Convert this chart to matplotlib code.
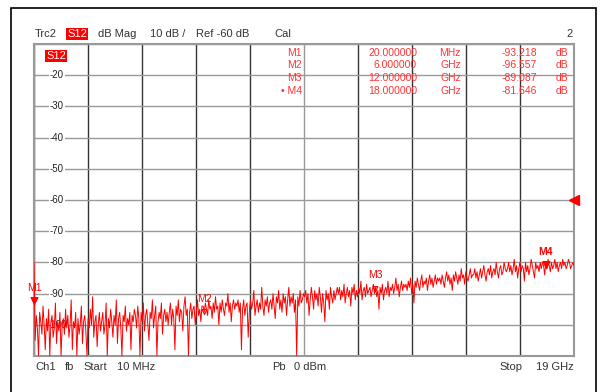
import numpy as np
import matplotlib
matplotlib.use('Agg')
from matplotlib import pyplot as plt
from matplotlib.patches import Rectangle
from matplotlib.path import Path

plt.rcParams['font.family'] = ['Liberation Sans', 'DejaVu Sans']

# sweep: start 10 MHz, stop 19 GHz
f_start = 0.01
f_stop = 19.0

# trace values (dB), equally spaced sweep points
trace_db = [
    -80, -105, -97, -101, -110, -96, -99, -103, -94, -100, -108, -98, -102, -95, -110,
    -99, -97, -104, -101, -93, -106, -99, -102, -96, -110, -100, -98, -103, -95, -101,
    -97, -104, -100, -92, -108, -99, -101, -96, -110, -98, -103, -100, -94, -106, -99,
    -97, -102, -110, -98, -101, -95, -100, -91, -104, -99, -97, -107, -100, -96, -102,
    -99, -96, -103, -100, -93, -110, -98, -101, -95, -99, -104, -97, -100, -92, -106,
    -98, -96, -101, -110, -97, -99, -94, -102, -98, -100, -96, -108, -97, -99, -95,
    -97, -101, -94, -98, -110, -96, -99, -93, -102, -97, -95, -100, -105, -96, -98,
    -92, -101, -97, -94, -110, -99, -96, -98, -93, -103, -97, -95, -99, -96, -100,
    -96, -93, -100, -95, -98, -108, -94, -97, -92, -99, -95, -96, -102, -94, -91,
    -97, -95, -110, -96, -93, -98, -95, -94, -100, -96, -92, -97, -95, -99, -94,
    -94, -96, -93, -95, -97, -92, -95, -94, -98, -93, -96, -91, -95, -94, -100,
    -93, -96, -92, -95, -97, -93, -94, -90, -96, -93, -99, -94, -92, -95, -93,
    -94, -92, -96, -93, -108, -95, -92, -97, -94, -93, -104, -96, -92, -95, -93,
    -89, -97, -94, -92, -96, -93, -95, -88, -94, -97, -92, -94, -91, -96, -93,
    -92, -95, -90, -94, -98, -91, -93, -89, -95, -92, -96, -90, -93, -91, -97,
    -92, -88, -94, -91, -93, -90, -96, -92, -110, -91, -94, -89, -93, -92, -90,
    -91, -89, -93, -90, -97, -92, -88, -91, -95, -89, -92, -90, -94, -88, -91,
    -96, -90, -93, -99, -89, -92, -90, -95, -88, -91, -93, -89, -92, -90, -88,
    -90, -88, -92, -89, -91, -87, -93, -90, -88, -91, -89, -94, -88, -90, -87,
    -92, -89, -91, -88, -90, -86, -92, -89, -88, -91, -87, -90, -89, -88, -91,
    -89, -87, -90, -88, -91, -89, -95, -88, -90, -87, -92, -89, -88, -90, -86,
    -91, -88, -89, -87, -90, -88, -85, -89, -87, -91, -88, -86, -89, -87, -88,
    -87, -89, -86, -88, -85, -90, -87, -93, -86, -88, -85, -87, -89, -86, -84,
    -88, -86, -87, -85, -89, -86, -84, -87, -85, -88, -86, -84, -87, -85, -86,
    -85, -87, -84, -86, -88, -85, -83, -86, -84, -87, -85, -89, -84, -86, -83,
    -85, -87, -84, -86, -82, -85, -84, -87, -83, -85, -86, -84, -82, -85, -84,
    -84, -82, -85, -83, -86, -84, -82, -85, -83, -81, -84, -86, -83, -82, -84,
    -81, -85, -83, -82, -84, -80, -83, -85, -82, -81, -84, -83, -80, -82, -83,
    -82, -80, -83, -81, -84, -82, -79, -83, -81, -85, -82, -80, -83, -81, -82,
    -86, -80, -83, -81, -84, -82, -79, -81, -83, -85, -80, -82, -81, -83, -80,
    -82, -80, -81, -84, -80, -82, -79, -81, -83, -80, -82, -81, -79, -82, -80,
    -83, -81, -80, -82, -79, -81, -80, -82, -81, -79, -80, -82, -81, -80, -81,
]
freqs = np.linspace(f_start, f_stop, len(trace_db))

# markers
mk_names = ['M1', 'M2', 'M3', 'M4']
mk_freq = [0.02, 6.0, 12.0, 18.0]
mk_freq_txt = ['20.000000', '6.000000', '12.000000', '18.000000']
mk_unit = ['MHz', 'GHz', 'GHz', 'GHz']
mk_val = [-93.218, -96.557, -89.087, -81.646]

y_labels = [-20, -30, -40, -50, -60, -70, -80, -90, -100]
ref_level = -60

fig = plt.figure(figsize=(6.02, 3.92), dpi=100)
W, H = 602, 392

def fx(px):
    return px / W

def fy(py):
    return 1 - py / H

# outer frame
fig.patches.append(Rectangle((fx(11), fy(400)), fx(596) - fx(11), fy(8) - fy(400),
                             transform=fig.transFigure, fill=False, lw=1.2, ec='black'))

ax = fig.add_axes([fx(34), fy(356), fx(574) - fx(34), fy(44) - fy(356)])
ax.set_xlim(f_start, f_stop)
ax.set_ylim(-110, -10)
ax.set_xticks(np.linspace(f_start, f_stop, 11))
ax.set_yticks(np.arange(-110, -9, 10))
ax.tick_params(length=0, labelleft=False, labelbottom=False)
ax.grid(axis='y', color='#999999', lw=1.0)
ax.grid(axis='x', color='#333333', lw=1.0)
ax.get_xgridlines()[5].set_color('#999999')
for s in ax.spines.values():
    s.set_color('#999999')
    s.set_linewidth(1.5)

# y labels inside the grid, above the grid lines
for v in y_labels:
    ax.text(0.0426, v, str(v), transform=ax.get_yaxis_transform(), ha='center', va='center',
            fontsize=7, color='#222222',
            bbox=dict(fc='white', ec='none', pad=0.6), zorder=2.5)

ax.plot(freqs, trace_db, color='#ff0000', lw=0.7, zorder=3)

# marker triangles (tip on the trace)
tri = Path([(-0.5, 1.0), (0.5, 1.0), (0.0, 0.0), (-0.5, 1.0)],
           [Path.MOVETO, Path.LINETO, Path.LINETO, Path.CLOSEPOLY])
for i, (n, f, v) in enumerate(zip(mk_names, mk_freq, mk_val)):
    active = (i == 0 or i == 3)
    ax.plot([f], [v], marker=tri, ms=10 if active else 7, color='#ff0000',
            mfc='#ff0000' if active else 'none', mew=0.8, zorder=4, clip_on=False)
    ax.annotate(n, (f, v), xytext=(0, 11), textcoords='offset points', ha='center',
                va='center', fontsize=7.5, color='#ff0000',
                fontweight='bold' if i == 3 else 'normal', zorder=5,
                annotation_clip=False)

# reference level arrow on the right edge
ax.plot([f_stop], [ref_level], marker='<', ms=7, color='#ff0000', clip_on=False,
        zorder=5)

# S12 tag inside the grid
fig.text(fx(46), fy(56), 'S12', fontsize=8, color='white', va='center',
         bbox=dict(fc='#ff0000', ec='none', pad=0.8))

# header line
hy = fy(34)
fig.text(fx(35), hy, 'Trc2', fontsize=8, color='#333333', va='center')
fig.text(fx(67), hy, 'S12', fontsize=8, color='white', va='center',
         bbox=dict(fc='#ff0000', ec='none', pad=0.8))
fig.text(fx(98), hy, 'dB Mag', fontsize=8, color='#333333', va='center')
fig.text(fx(150), hy, '10 dB /', fontsize=8, color='#333333', va='center')
fig.text(fx(196), hy, 'Ref -60 dB', fontsize=8, color='#333333', va='center')
fig.text(fx(274), hy, 'Cal', fontsize=8, color='#333333', va='center')
fig.text(fx(573), hy, '2', fontsize=8, color='#333333', va='center', ha='right')

# marker table
row_y = [53, 65.5, 78, 90.5]
for i in range(4):
    y = fy(row_y[i])
    name = ('\u2022 ' if i == 3 else '') + mk_names[i]
    fig.text(fx(302), y, name, fontsize=7.5, color='#ff3333', va='center', ha='right')
    fig.text(fx(417), y, mk_freq_txt[i], fontsize=7.5, color='#ff3333', va='center', ha='right')
    fig.text(fx(461), y, mk_unit[i], fontsize=7.5, color='#ff3333', va='center', ha='right')
    fig.text(fx(537), y, '%.3f' % mk_val[i], fontsize=7.5, color='#ff3333', va='center', ha='right')
    fig.text(fx(568), y, 'dB', fontsize=7.5, color='#ff3333', va='center', ha='right')

# footer line
by = fy(367)
fig.text(fx(35), by, 'Ch1', fontsize=8, color='#333333', va='center')
fig.text(fx(65), by, 'fb', fontsize=8, color='#333333', va='center')
fig.text(fx(83), by, 'Start', fontsize=8, color='#333333', va='center')
fig.text(fx(117), by, '10 MHz', fontsize=8, color='#333333', va='center')
fig.text(fx(272), by, 'Pb', fontsize=8, color='#333333', va='center')
fig.text(fx(294), by, '0 dBm', fontsize=8, color='#333333', va='center')
fig.text(fx(499), by, 'Stop', fontsize=8, color='#333333', va='center')
fig.text(fx(574), by, '19 GHz', fontsize=8, color='#333333', va='center', ha='right')

fig.savefig('out.png', dpi=100)
